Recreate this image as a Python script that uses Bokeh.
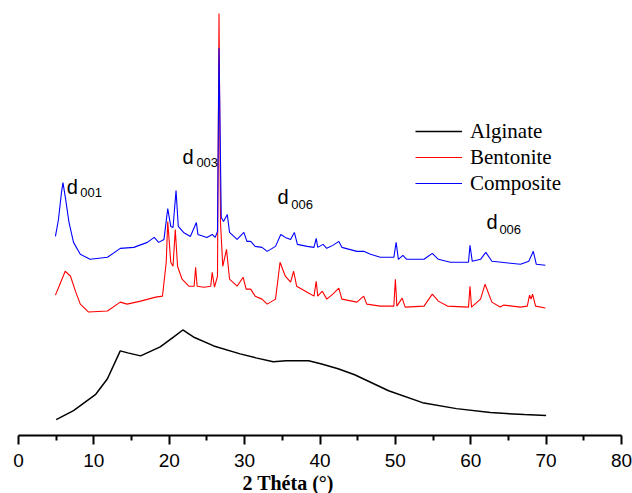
from bokeh.plotting import figure
from bokeh.models import Range1d, Legend, LegendItem, ColumnDataSource, FixedTicker, Title
from bokeh.core.properties import value
from bokeh.embed import file_html
from bokeh.resources import INLINE

# ---- data (2 Theta in degrees, intensity in arbitrary units, offset stacked) ----
alg_x = [5.0, 7.3, 10.2, 11.8, 13.5, 14.5, 16.2, 18.8, 20.6, 21.8, 23.2, 25.9, 29.4,
         31.5, 33.8, 35.5, 37.4, 38.5, 40.1, 42.4, 44.6, 49.1, 53.6, 58.1, 62.6, 67.1, 70.0]
alg_y = [16, 25, 41, 57, 85, 83, 80, 89, 99, 106, 99, 90, 82,
         78, 74, 75, 75, 75, 72, 67, 61, 45, 33, 27, 23, 21, 20]

ben_x = [4.9, 5.6, 6.2, 6.9, 7.6, 8.2, 9.3, 11.8, 13.5, 14.4, 16.2, 18.2, 19.1, 19.6, 19.8,
         20.2, 20.5, 20.8, 21.1, 21.7, 22.6, 23.3, 23.5, 23.7, 24.6, 25.5, 25.7, 26.0, 26.4,
         26.6, 26.8, 27.1, 27.6, 28.0, 29.0, 29.8, 30.2, 30.8, 31.4, 32.3, 33.0, 34.1, 34.7,
         35.4, 36.1, 36.5, 36.9, 38.3, 39.2, 39.5, 39.7, 40.3, 40.9, 41.7, 42.5, 42.9, 44.9,
         45.8, 46.2, 48.0, 49.8, 50.0, 50.2, 50.9, 51.3, 53.8, 54.9, 55.7, 56.9, 59.7, 59.9,
         60.1, 61.3, 61.9, 62.8, 63.9, 64.4, 66.6, 67.5, 67.8, 68.0, 68.2, 68.6, 69.9]
ben_y = [141, 154, 165, 160, 144, 132, 124, 125, 134, 132, 135, 139, 140, 174, 215,
         174, 170, 207, 170, 157, 150, 150, 169, 150, 149, 150, 164, 149, 160,
         424, 214, 170, 187, 157, 150, 159, 147, 147, 140, 137, 132, 137, 174,
         160, 154, 165, 150, 144, 140, 155, 140, 145, 137, 142, 148, 137, 134,
         140, 132, 130, 130, 157, 130, 138, 129, 130, 142, 135, 130, 129, 150,
         129, 137, 152, 134, 129, 131, 129, 130, 141, 137, 142, 130, 128]

com_x = [4.9, 5.3, 5.7, 5.9, 6.2, 6.7, 7.3, 8.2, 9.5, 11.8, 13.5, 15.3, 17.1, 18.0, 18.6,
         19.3, 19.8, 20.2, 20.5, 20.9, 21.2, 21.9, 22.8, 23.6, 23.8, 25.0, 25.7, 26.1, 26.4,
         26.6, 26.9, 27.2, 27.7, 28.0, 29.0, 29.9, 30.3, 30.8, 31.4, 32.3, 33.0, 34.1, 34.8,
         35.4, 36.1, 36.6, 37.0, 38.3, 39.2, 39.5, 39.7, 40.4, 40.9, 41.7, 42.5, 42.9, 44.9,
         45.8, 46.7, 48.0, 49.8, 50.1, 50.4, 51.0, 51.5, 53.8, 54.9, 55.7, 57.3, 59.7, 59.9,
         60.2, 61.3, 62.0, 62.8, 64.1, 66.6, 67.7, 68.3, 68.7, 69.9]
com_y = [200, 217, 244, 254, 240, 214, 194, 182, 177, 179, 188, 189, 194, 199, 194,
         197, 228, 210, 209, 246, 210, 204, 200, 214, 202, 199, 202, 199, 205,
         389, 219, 215, 222, 204, 197, 204, 195, 195, 190, 189, 185, 190, 202,
         199, 197, 204, 192, 190, 189, 198, 189, 192, 188, 191, 195, 189, 185,
         185, 182, 179, 179, 194, 177, 181, 177, 177, 183, 177, 174, 174, 191,
         175, 177, 184, 175, 174, 172, 175, 185, 172, 171]

series_names = ["Alginate", "Bentonite", "Composite"]
series_colors = ["#000000", "#ff0000", "#0000ff"]
series_widths = [1.5, 1.1, 1.1]

# reflection annotations
ann_d_x = [6.4, 21.75, 34.35, 62.1]
ann_d_y = [250, 280, 240, 214]
ann_sub_x = [8.2, 23.6, 36.2, 63.8]
ann_sub_y = [244, 274, 232, 207]
ann_sub = ["001", "003", "006", "006"]

x_ticks = [0, 10, 20, 30, 40, 50, 60, 70, 80]
x_minor = [5, 15, 25, 35, 45, 55, 65, 75]

p = figure(width=632, height=493, output_backend="svg", toolbar_location=None,
           x_range=Range1d(0, 80), y_range=Range1d(0, 437),
           min_border_left=18, min_border_right=11, min_border_top=0, min_border_bottom=0)
p.outline_line_color = None
p.xgrid.visible = False
p.ygrid.visible = False
p.yaxis.visible = False
p.background_fill_color = "white"

renderers = []
for xs, ys, c, w in zip([alg_x, ben_x, com_x], [alg_y, ben_y, com_y], series_colors, series_widths):
    r = p.line(xs, ys, line_color=c, line_width=w)
    renderers.append(r)

legend = Legend(items=[LegendItem(label=n, renderers=[r]) for n, r in zip(series_names, renderers)],
                location=(397, 239), orientation="vertical",
                glyph_width=47, glyph_height=26, label_height=26, label_standoff=8,
                spacing=0, padding=0, margin=0,
                border_line_color=None, background_fill_alpha=0,
                label_text_font="Liberation Serif", label_text_font_size="21px",
                label_text_color="black")
p.add_layout(legend)

ax = p.xaxis[0]
ax.ticker = FixedTicker(ticks=x_ticks, minor_ticks=x_minor)
ax.axis_line_width = 2
ax.axis_line_color = "black"
ax.major_tick_line_width = 2
ax.minor_tick_line_width = 2
ax.major_tick_in = 0
ax.major_tick_out = 9
ax.minor_tick_in = 0
ax.minor_tick_out = 5
ax.major_label_text_font = "Liberation Sans"
ax.major_label_text_font_size = "19px"
ax.major_label_text_color = "black"
ax.major_label_standoff = 9

xt = Title(text="2 Théta (°)", align="left", offset=224, standoff=0,
           text_font="Liberation Serif", text_font_style="bold", text_font_size="20px",
           text_color="black")
p.add_layout(xt, "below")

src_d = ColumnDataSource(dict(x=ann_d_x, y=ann_d_y, t=["d"] * len(ann_d_x)))
src_s = ColumnDataSource(dict(x=ann_sub_x, y=ann_sub_y, t=ann_sub))
p.text(x="x", y="y", text="t", source=src_d, text_font=value("Liberation Sans"),
       text_font_size="20px", text_baseline="alphabetic", text_align="left", text_color="black")
p.text(x="x", y="y", text="t", source=src_s, text_font=value("Liberation Sans"),
       text_font_size="13px", text_baseline="alphabetic", text_align="left", text_color="black")

open("out.html", "w").write(file_html(p, INLINE))
